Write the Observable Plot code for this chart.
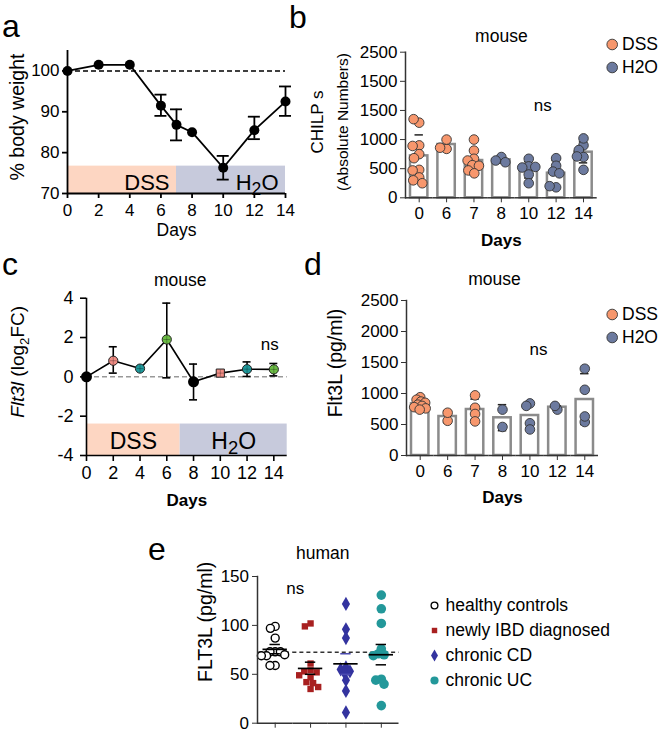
<!DOCTYPE html>
<html><head><meta charset="utf-8">
<script src="https://cdn.jsdelivr.net/npm/d3@7"></script>
<script src="https://cdn.jsdelivr.net/npm/@observablehq/plot@0.6"></script>
<style>
body{margin:0;background:#fff;}
#fig{position:relative;width:660px;height:731px;overflow:hidden;font-family:"Liberation Sans",Arial,Helvetica,sans-serif;background:#fff;}
.letter{position:absolute;font-size:32px;line-height:32px;color:#000;}
</style></head><body><div id="fig"></div>
<script>
// ---------- data ----------
// panel a: body weight
const aDays = [0, 2, 4, 6, 7, 8, 10, 12, 14];
const aWeight = [100, 101.5, 101.5, 91.5, 86.8, 85, 76.3, 85.5, 92.5];
const aLow = [100, 101.5, 101.5, 89, 83, 85, 73.4, 83.3, 89];
const aHigh = [100, 101.5, 101.5, 94.2, 90.6, 85, 79.2, 88.8, 96.2];
const aXTicks = [0, 2, 4, 6, 8, 10, 12, 14];
const aYTicks = [70, 80, 90, 100];

// treatment phases
const phaseNames = ["DSS", "H2O"];
const phaseFill = ["#fdd6c2", "#c7cadc"];
const aPhaseStart = [0, 7], aPhaseEnd = [7, 14], aPhaseTop = 76.7;
const cPhaseStart = [0, 7], cPhaseEnd = [7, 15], cPhaseTop = -2.4;

// legend for b / d
const groupNames = ["DSS", "H2O"];
const groupColors = ["#f7976d", "#6c7a9f"];

// panel b: CHILPs
const bDays = ["0", "6", "7", "8", "10", "12", "14"];
const bGroup = ["DSS", "DSS", "DSS", "H2O", "H2O", "H2O", "H2O"];
const bMean = [720, 915, 640, 652, 480, 422, 783];
const bLow = [360, 840, 460, 600, 340, 200, 600];
const bHigh = [1080, 990, 820, 700, 620, 640, 960];
const bDots = [
  [1290, 1350, 900, 890, 750, 680, 480, 470, 350, 300, 250],
  [840, 1000, 860],
  [1000, 810, 670, 640, 560, 550, 470, 420],
  [700, 640, 610],
  [670, 540, 520, 530, 400, 250],
  [680, 550, 450, 420, 180, 200],
  [900, 1020, 820, 700, 710, 480]
];
const bYTicks = [0, 500, 1000, 1500, 2000, 2500];
const bYLabels = ["0", "500", "1000", "1500", "1500", "2500"];

// panel c: Flt3l log2FC
const cDays = [0, 2, 4, 6, 8, 10, 12, 14];
const cFC = [0, 0.82, 0.42, 1.9, -0.25, 0.19, 0.39, 0.38];
const cLow = [0, 0.19, 0.42, -0.05, -1.17, 0.19, 0.02, 0.05];
const cHigh = [0, 1.53, 0.42, 3.75, 0.65, 0.19, 0.76, 0.68];
const cColor = ["black", "#f08c84", "#1f9a9c", "#6cbd45", "black", "#f08c84", "#1f9a9c", "#6cbd45"];
const cShape = ["circle", "circle", "circle", "circle", "circle", "square", "circle", "circle"];
const cXTicks = [0, 2, 4, 6, 8, 10, 12, 14];
const cYTicks = [-4, -2, 0, 2, 4];

// panel d: Flt3L pg/ml
const dDays = ["0", "6", "7", "8", "10", "12", "14"];
const dGroup = ["DSS", "DSS", "DSS", "H2O", "H2O", "H2O", "H2O"];
const dMean = [834, 629, 742, 608, 645, 779, 903];
const dLow = [780, 530, 580, 400, 450, 760, 500];
const dHigh = [890, 720, 910, 820, 840, 800, 1320];
const dDots = [
  [940, 900, 870, 850, 820, 800, 780, 760, 740],
  [560, 690],
  [970, 770, 670, 550],
  [740, 460],
  [840, 800, 520, 420],
  [740, 800],
  [1400, 1060, 540, 630]
];
const dYTicks = [0, 500, 1000, 1500, 2000, 2500];

// panel e: human FLT3L
const eGroups = ["healthy controls", "newly IBD diagnosed", "chronic CD", "chronic UC"];
const eHealthy = [99, 97, 87, 73, 73, 73, 70, 69, 69, 59, 59];
const eIBD = [102, 99, 61, 54, 53, 52, 49, 47, 42, 41, 37, 35];
const eCD = [122, 96, 87, 57, 55, 53, 51, 44, 33, 11];
const eUC = [131, 117, 102, 76, 71, 70, 69, 45, 44, 40, 18];
const eMean = [75.5, 56, 60.7, 70];
const eLow = [71, 50, 50, 59.7];
const eHigh = [80.5, 62.4, 71, 80.5];
const eReference = 72.6;
const eYTicks = [0, 50, 100, 150];
const eSymbols = ["circle", "square", "diamond", "circle"];
const eFill = ["white", "#a82020", "#33339f", "#23989a"];
const eStroke = ["black", "none", "none", "none"];
const eErrColor = ["black", "black", "#4b4bb0", "black"];

// ---------- helpers ----------
const FONT = '"Liberation Sans", Arial, Helvetica, sans-serif';
const style = {fontFamily: FONT, background: "transparent", overflow: "visible", color: "#000"};
const fig = document.getElementById("fig");
function place(node, left, top) {
  node.style.position = "absolute";
  node.style.left = left + "px";
  node.style.top = top + "px";
  fig.appendChild(node);
  return node;
}
function rich(svg, plain, html) {
  svg.querySelectorAll("text").forEach(t => { if (t.textContent === plain) t.innerHTML = html; });
}
const H2O_HTML = 'H<tspan dy="5" font-size="80%">2</tspan><tspan dy="-5">O</tspan>';
const yTitle = {frameAnchor: "left", textAnchor: "middle", lineAnchor: "middle", rotate: -90};

// ---------- panel a ----------
const aTable = aDays.map((d, i) => ({day: d, w: aWeight[i], lo: aLow[i], hi: aHigh[i]}));
const aErr = aTable.filter(d => d.hi > d.lo);
const aPhases = phaseNames.map((n, i) => ({name: n, x1: aPhaseStart[i], x2: aPhaseEnd[i], fill: phaseFill[i]}));
const svgA = Plot.plot({
  width: 330, height: 250, marginLeft: 67, marginRight: 45, marginTop: 50, marginBottom: 57,
  x: {domain: [0, 14]}, y: {domain: [70, 105]}, color: {type: "identity"}, style,
  marks: [
    Plot.rectY(aPhases, {x1: "x1", x2: "x2", y1: 70, y2: aPhaseTop, fill: "fill"}),
    Plot.text(aPhases, {x: "x2", y: 70, text: "name", textAnchor: "end", lineAnchor: "bottom", dx: -7, dy: -4, fontSize: 22}),
    Plot.ruleY([100], {x1: 0, x2: 14, strokeWidth: 1.5, strokeDasharray: "5,3"}),
    Plot.line(aTable, {x: "day", y: "w", strokeWidth: 1.8}),
    Plot.ruleX(aErr, {x: "day", y1: "lo", y2: "hi", strokeWidth: 1.8}),
    Plot.ruleY(aErr, {x1: "day", x2: "day", y: "hi", insetLeft: -6, insetRight: -6, strokeWidth: 1.8}),
    Plot.ruleY(aErr, {x1: "day", x2: "day", y: "lo", insetLeft: -6, insetRight: -6, strokeWidth: 1.8}),
    Plot.dot(aTable, {x: "day", y: "w", r: 5, fill: "black"}),
    Plot.ruleY([70], {strokeWidth: 1.8}),
    Plot.ruleX([0], {strokeWidth: 1.8}),
    Plot.axisX({ticks: aXTicks, tickSize: 5, tickPadding: 5, fontSize: 17, label: null, strokeWidth: 1.8}),
    Plot.axisY({ticks: aYTicks, tickSize: 5, tickPadding: 3, fontSize: 17, label: null, strokeWidth: 1.8}),
    Plot.text(["Days"], {frameAnchor: "bottom", lineAnchor: "middle", dy: 37, fontSize: 17.5}),
    Plot.text(["% body weight"], {...yTitle, dx: -50, dy: -5, fontSize: 19.5})
  ]
});
rich(svgA, "H2O", H2O_HTML);
place(svgA, 0, 0);

// ---------- bar panels b and d ----------
function barPanel(o) {
  const bars = o.days.map((d, i) => ({day: d, mean: o.mean[i], lo: o.lo[i], hi: o.hi[i]}));
  const pts = o.days.flatMap((d, i) => o.dots[i].map(v => ({day: d, v, fill: groupColors[groupNames.indexOf(o.group[i])]})));
  return Plot.plot({
    width: 360, height: 260, marginLeft: o.ml, marginRight: o.mr, marginTop: o.mt, marginBottom: o.mb,
    fx: {domain: o.days, padding: 0, round: false}, y: {domain: [0, 2500]}, color: {type: "identity"}, style,
    marks: [
      Plot.barY(bars, {fx: "day", y: "mean", fill: "white", stroke: "#8b8b8b", strokeWidth: 2.5, insetLeft: 5, insetRight: 5}),
      Plot.ruleX(bars, {fx: "day", y1: "lo", y2: "hi", stroke: "#222", strokeWidth: 1.5}),
      Plot.tickY(bars, {fx: "day", y: "hi", insetLeft: 9.5, insetRight: 9.5, stroke: "#222", strokeWidth: 1.5}),
      Plot.tickY(bars, {fx: "day", y: "lo", insetLeft: 9.5, insetRight: 9.5, stroke: "#222", strokeWidth: 1.5}),
      Plot.dot(pts, Plot.dodgeX({anchor: "middle", padding: 0, r: o.dodgeR}, {fx: "day", y: "v", r: 4.8, fill: "fill", stroke: "#333", strokeWidth: 0.9})),
      Plot.ruleY([0], {stroke: "#333", strokeWidth: 1.5}),
      Plot.frame({anchor: "left", facetAnchor: "left", stroke: "#333", strokeWidth: 1.5}),
      Plot.axisY({ticks: o.yTicks, tickFormat: o.yFormat, tickSize: 5, tickPadding: 3, fontSize: 17, label: null, stroke: "#333"}),
      Plot.axisFx({anchor: "bottom", tickSize: 5, tickPadding: 4, fontSize: 17, label: null, stroke: "#333"}),
      Plot.text(["8"], {fx: d => d, text: () => "mouse", frameAnchor: "top", lineAnchor: "middle", dy: o.titleDy, dx: o.titleDx, fontSize: 17.5}),
      Plot.text(["10"], {fx: d => d, y: () => o.nsY, text: () => "ns", dx: o.nsDx, fontSize: 17}),
      Plot.text(["8"], {fx: d => d, text: () => "Days", frameAnchor: "bottom", lineAnchor: "middle", dy: o.daysDy, fontSize: 17, fontWeight: "bold"}),
      ...o.ylabels.map(l => Plot.text([l.t], {...yTitle, facetAnchor: "left", dx: l.dx, dy: l.dy, fontSize: l.fs}))
    ]
  });
}
function legendPlot() {
  return Plot.plot({
    width: 60, height: 50, margin: 0, style, color: {type: "identity"},
    y: {type: "point", domain: groupNames, range: [13.3, 36.7], padding: 0, axis: null},
    marks: [
      Plot.dot(groupNames, {y: d => d, frameAnchor: "left", dx: 11.7, r: 5.3, fill: (d, i) => groupColors[i], stroke: "#333", strokeWidth: 0.9}),
      Plot.text(groupNames, {y: d => d, frameAnchor: "left", textAnchor: "start", dx: 21.5, fontSize: 17.5})
    ]
  });
}

const svgB = barPanel({
  days: bDays, group: bGroup, mean: bMean, lo: bLow, hi: bHigh, dots: bDots,
  ml: 105, mr: 63.3, mt: 51.7, mb: 62.7, dodgeR: 3.3,
  yTicks: bYTicks, yFormat: d => bYLabels[bYTicks.indexOf(d)],
  titleDy: -16, titleDx: 0, nsY: 1585, nsDx: 14, daysDy: 43,
  ylabels: [{t: "CHILP s", dx: -88, dy: -3, fs: 17}, {t: "(Absolute Numbers)", dx: -62.5, dy: -3, fs: 15.5}]
});
place(svgB, 300, 0);
place(legendPlot(), 600, 30);

// ---------- panel c ----------
const cTable = cDays.map((d, i) => ({day: d, fc: cFC[i], lo: cLow[i], hi: cHigh[i], color: cColor[i], shape: cShape[i]}));
const cErr = cTable.filter(d => d.hi > d.lo);
const cPhases = phaseNames.map((n, i) => ({name: n, x1: cPhaseStart[i], x2: cPhaseEnd[i], fill: phaseFill[i]}));
const svgC = Plot.plot({
  width: 330, height: 260, marginLeft: 86, marginRight: 43.3, marginTop: 42.7, marginBottom: 60,
  x: {domain: [0, 15]}, y: {domain: [-4, 4]}, color: {type: "identity"},
  symbol: {domain: ["circle", "square"], range: ["circle", "square"]}, style,
  marks: [
    Plot.rectY(cPhases, {x1: "x1", x2: "x2", y1: -4, y2: cPhaseTop, fill: "fill"}),
    Plot.text(cPhases, {x: d => (d.x1 + d.x2) / 2, y: -4, text: "name", lineAnchor: "bottom", dy: -6.5, fontSize: 23}),
    Plot.ruleY([0], {x1: 0, x2: 15, stroke: "#999", strokeDasharray: "5,3", strokeWidth: 1.5}),
    Plot.line(cTable, {x: "day", y: "fc", strokeWidth: 1.6}),
    Plot.ruleX(cErr, {x: "day", y1: "lo", y2: "hi", strokeWidth: 1.6}),
    Plot.ruleY(cErr, {x1: "day", x2: "day", y: "hi", insetLeft: -4, insetRight: -4, strokeWidth: 1.6}),
    Plot.ruleY(cErr, {x1: "day", x2: "day", y: "lo", insetLeft: -4, insetRight: -4, strokeWidth: 1.6}),
    Plot.dot(cTable.filter(d => d.color === "black"), {x: "day", y: "fc", r: 5.5, fill: "black"}),
    Plot.dot(cTable.filter(d => d.color !== "black"), {x: "day", y: "fc", r: 4.6, fill: "color", stroke: "#222", strokeWidth: 1, symbol: "shape"}),
    Plot.dot(cTable.filter(d => d.color !== "black"), {x: "day", y: "fc", r: 2.4, symbol: "plus", stroke: "rgba(0,0,0,0.35)", strokeWidth: 0.8}),
    Plot.ruleY([-4], {strokeWidth: 1.6}),
    Plot.ruleX([0], {strokeWidth: 1.6}),
    Plot.axisX({ticks: cXTicks, tickSize: 6, tickPadding: 5, fontSize: 18, label: null, strokeWidth: 1.6}),
    Plot.axisY({ticks: cYTicks, tickFormat: d => String(d), tickSize: 6, tickPadding: 7, fontSize: 18, label: null, strokeWidth: 1.6}),
    Plot.text(["mouse"], {x: 7, frameAnchor: "top", lineAnchor: "middle", dy: -17.7, fontSize: 17.5}),
    Plot.text(["ns"], {x: 13.7, y: 1.63, fontSize: 17}),
    Plot.text(["Days"], {frameAnchor: "bottom", lineAnchor: "middle", dy: 45, fontSize: 17, fontWeight: "bold"}),
    Plot.text(["Flt3l (log2FC)"], {...yTitle, dx: -68.5, dy: -15, fontSize: 19})
  ]
});
rich(svgC, "H2O", H2O_HTML);
rich(svgC, "Flt3l (log2FC)", '<tspan font-style="italic">Flt3l</tspan> (log<tspan dy="5" font-size="70%">2</tspan><tspan dy="-5">FC)</tspan>');
place(svgC, 0, 255);

// ---------- panel d ----------
const svgD = barPanel({
  days: dDays, group: dGroup, mean: dMean, lo: dLow, hi: dHigh, dots: dDots,
  ml: 106, mr: 62, mt: 45, mb: 60, dodgeR: 2.2,
  yTicks: dYTicks, yFormat: d => String(d),
  titleDy: -21, titleDx: -8, nsY: 1710, nsDx: 8.6, daysDy: 42,
  ylabels: [{t: "Flt3L (pg/ml)", dx: -71, dy: -15, fs: 19.5}]
});
place(svgD, 300, 255);
place(legendPlot(), 600, 300);

// ---------- panel e ----------
const eValues = [eHealthy, eIBD, eCD, eUC];
const eRadius = [4, 3.6, 4.3, 4.8];
const eDodge = [2.6, 3.2, 2.8, 2.8];
const eStats = eGroups.map((g, i) => ({g, mean: eMean[i], lo: eLow[i], hi: eHigh[i], c: eErrColor[i]}));
const svgE = Plot.plot({
  width: 290, height: 201, marginLeft: 107, marginRight: 41.5, marginTop: 46, marginBottom: 8.3,
  fx: {domain: eGroups, padding: 0, round: false}, y: {domain: [0, 150]}, color: {type: "identity"}, style,
  marks: [
    Plot.ruleY([eReference], {stroke: "#333", strokeDasharray: "4,3", strokeWidth: 1.5}),
    ...eGroups.map((g, i) => Plot.dot(eValues[i].map(v => ({g, v})),
      Plot.dodgeX({anchor: "middle", padding: 0, r: eDodge[i]}, {fx: "g", y: "v", r: eRadius[i], symbol: eSymbols[i], fill: eFill[i], stroke: eStroke[i], strokeWidth: 1.4}))),
    Plot.ruleX(eStats, {fx: "g", y1: "lo", y2: "hi", stroke: "c", strokeWidth: 1.5}),
    Plot.tickY(eStats, {fx: "g", y: "hi", insetLeft: 12.5, insetRight: 12.5, stroke: "c", strokeWidth: 1.5}),
    Plot.tickY(eStats, {fx: "g", y: "lo", insetLeft: 12.5, insetRight: 12.5, stroke: "c", strokeWidth: 1.5}),
    Plot.tickY(eStats, {fx: "g", y: "mean", insetLeft: 5.5, insetRight: 5.5, stroke: "black", strokeWidth: 1.7}),
    Plot.ruleY([0], {stroke: "#333", strokeWidth: 1.5}),
    Plot.frame({anchor: "left", facetAnchor: "left", stroke: "#333", strokeWidth: 1.5}),
    Plot.axisY({ticks: eYTicks, tickSize: 5, tickPadding: 3.5, fontSize: 17, label: null, stroke: "#333"}),
    Plot.axisFx({anchor: "bottom", tickSize: 5, tickFormat: () => "", label: null, stroke: "#333"}),
    Plot.text([eGroups[1]], {fx: d => d, text: () => "human", frameAnchor: "top", lineAnchor: "middle", dy: -23, dx: 12.2, fontSize: 17.5}),
    Plot.text([eGroups[0]], {fx: d => d, y: () => 137.7, text: () => "ns", dx: 20, fontSize: 17}),
    Plot.text(["FLT3L (pg/ml)"], {...yTitle, facetAnchor: "left", dx: -52, dy: -28, fontSize: 19.5})
  ]
});
place(svgE, 150, 530);

const svgELegend = Plot.plot({
  width: 235, height: 105, margin: 0, style, color: {type: "identity"},
  y: {type: "point", domain: eGroups, range: [14.3, 90.7], padding: 0, axis: null},
  marks: [
    ...eGroups.map((g, i) => Plot.dot([g], {y: d => d, frameAnchor: "left", dx: 9, r: eRadius[i] * 0.85, symbol: eSymbols[i], fill: eFill[i], stroke: eStroke[i], strokeWidth: 1.3})),
    Plot.text(eGroups, {y: d => d, frameAnchor: "left", textAnchor: "start", dx: 20, fontSize: 17.5})
  ]
});
place(svgELegend, 425, 590);

// ---------- panel letters ----------
[["a", 2, 10], ["b", 289, 1], ["c", 2, 248], ["d", 304, 248], ["e", 148, 533]].forEach(([t, x, y]) => {
  const div = document.createElement("div");
  div.className = "letter";
  div.textContent = t;
  div.style.left = x + "px";
  div.style.top = y + "px";
  fig.appendChild(div);
});
</script></body></html>
